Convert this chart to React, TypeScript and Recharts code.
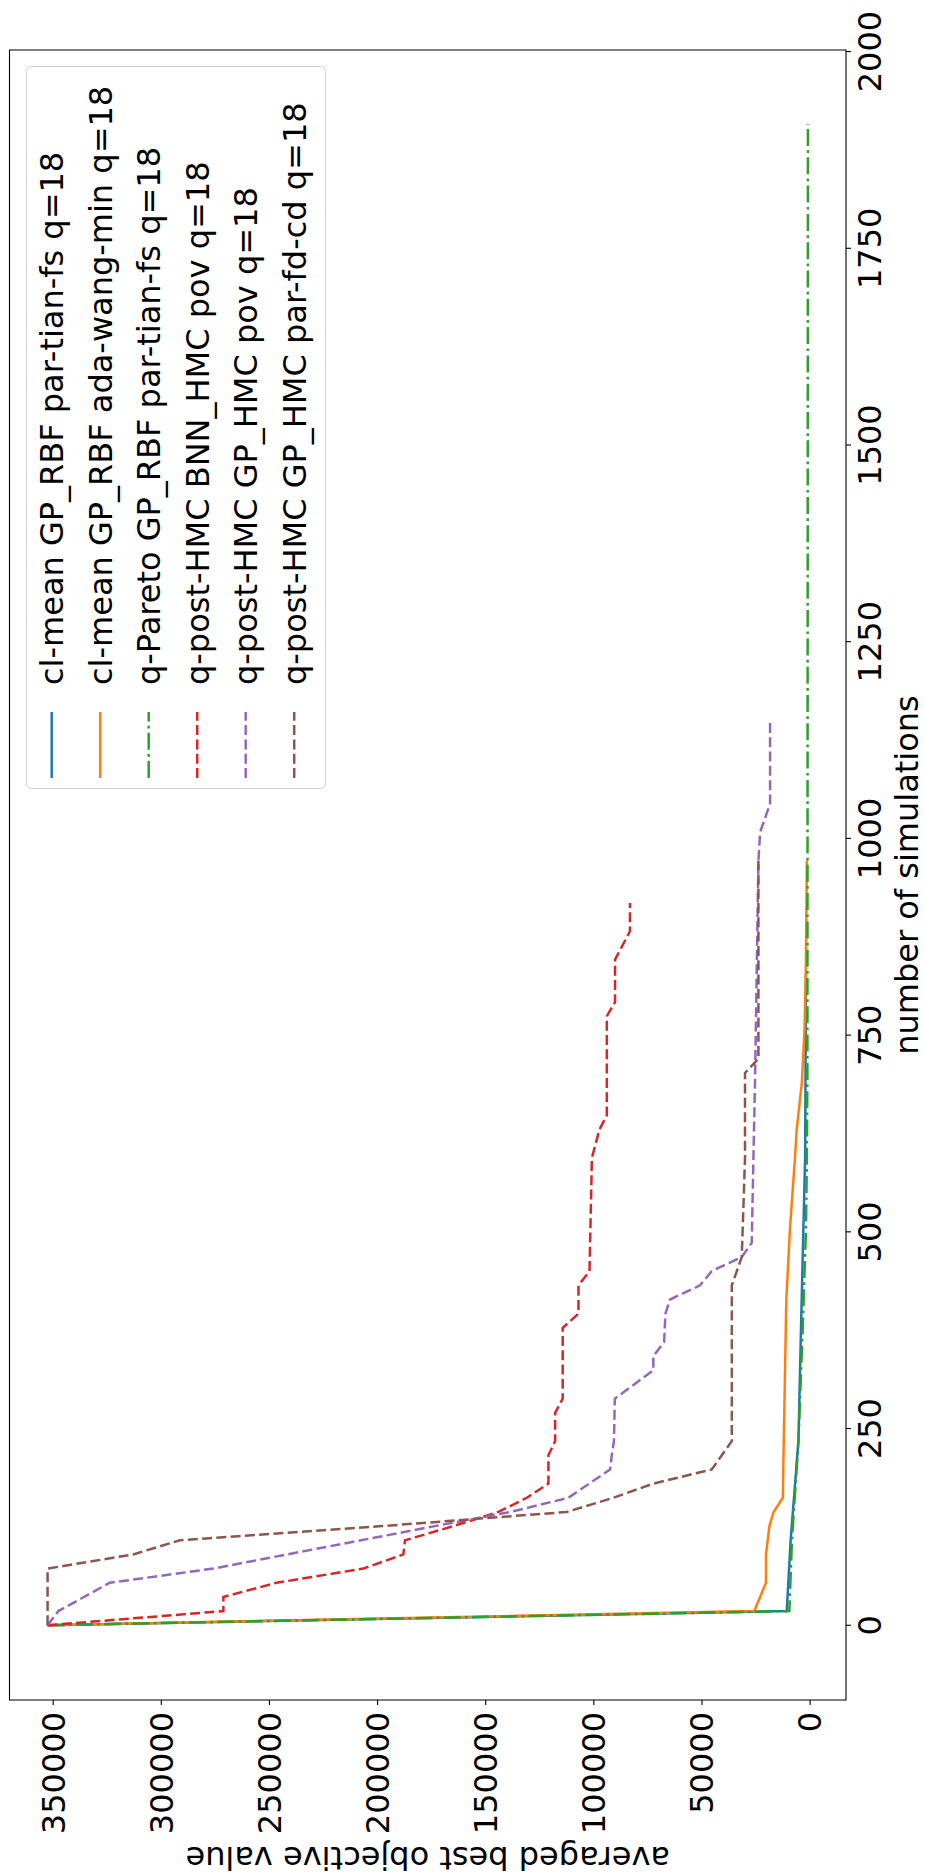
import { LineChart, Line, XAxis, YAxis, Legend, ReferenceArea } from 'recharts';

const FONT = 'DejaVu Sans';

const seriesNames = [
  'cl-mean GP_RBF par-tian-fs q=18',
  'cl-mean GP_RBF ada-wang-min q=18',
  'q-Pareto GP_RBF par-tian-fs q=18',
  'q-post-HMC BNN_HMC pov q=18',
  'q-post-HMC GP_HMC pov q=18',
  'q-post-HMC GP_HMC par-fd-cd q=18',
];
const seriesColors = ['#1f77b4', '#ff7f0e', '#2ca02c', '#d62728', '#9467bd', '#8c564b'];
const seriesDashes = ['', '', '17 4.3 2.7 4.3', '10 4.3', '10 4.3', '10 4.3'];

const simTicks = [0, 250, 500, 750, 1000, 1250, 1500, 1750, 2000];
const valueTicks = [0, 50000, 100000, 150000, 200000, 250000, 300000, 350000];

// number of simulations / averaged best objective value, per method
const blueSims = [0, 18, 108, 234, 378, 504, 594, 828];
const blueVals = [352600, 10800, 9000, 5400, 4200, 3100, 2300, 1900];

const orangeSims = [0, 18, 54, 90, 126, 144, 162, 216, 414, 504, 594, 630, 690, 756, 828, 972];
const orangeVals = [352600, 25800, 20400, 20400, 18800, 16900, 12600, 12300, 11000, 9300, 7000, 6200, 3800, 2600, 2000, 1500];

const greenSims = [0, 18, 108, 234, 378, 504, 594, 702, 1908];
const greenVals = [352600, 9600, 8400, 5400, 3400, 1900, 1500, 1250, 1000];

const redSims = [0, 18, 36, 54, 72, 90, 108, 126, 144, 162, 180, 216, 234, 270, 288, 378, 396, 432, 450, 594, 630, 648, 774, 792, 846, 882, 918];
const redVals = [352600, 271300, 271300, 246700, 206600, 188100, 187300, 165000, 144100, 131000, 121000, 121000, 117900, 117900, 114400, 114400, 107100, 107100, 102000, 100900, 97400, 94000, 94000, 90200, 90200, 83300, 83300];

const purpleSims = [0, 18, 54, 72, 126, 144, 162, 198, 216, 234, 288, 324, 342, 360, 396, 414, 432, 450, 468, 486, 594, 702, 972, 1008, 1044, 1152];
const purpleVals = [352600, 347600, 323800, 276000, 173500, 138500, 111800, 92500, 91700, 90700, 90300, 72500, 72500, 67500, 66900, 64750, 50900, 45500, 31600, 27000, 26200, 25400, 23900, 23100, 18500, 18500];

const brownSims = [0, 72, 90, 108, 126, 144, 162, 180, 198, 234, 432, 468, 594, 702, 720, 972];
const brownVals = [352600, 352600, 313000, 291400, 198000, 112500, 91000, 72500, 45500, 36200, 36200, 31600, 30100, 30100, 23900, 23900];

const toPoints = (sims: number[], vals: number[]) => sims.map((n, i) => ({ n, v: vals[i] }));

const series = [
  toPoints(blueSims, blueVals),
  toPoints(orangeSims, orangeVals),
  toPoints(greenSims, greenVals),
  toPoints(redSims, redVals),
  toPoints(purpleSims, purpleVals),
  toPoints(brownSims, brownVals),
];

function renderLegend() {
  return (
    <svg width={723} height={300} style={{ display: 'block' }}>
      <rect x={0.5} y={0.5} width={722} height={299} rx={5} fill="#fff" fillOpacity={0.8} stroke="#d0d0d0" />
      {seriesNames.map((name, i) => {
        const cy = 25.7 + 48.5 * i;
        return (
          <g key={name}>
            <line x1={11} x2={77} y1={cy} y2={cy} stroke={seriesColors[i]} strokeWidth={2.5}
              strokeDasharray={seriesDashes[i] || undefined} />
            <text x={104} y={cy + 11.6} fontSize={32} fontFamily={FONT} fill="#000">{name}</text>
          </g>
        );
      })}
    </svg>
  );
}

function renderYLabel(props: any) {
  const vb = props.viewBox || { y: 9.5, height: 836.5 };
  const cy = vb.y + vb.height / 2;
  return (
    <text x={29.5} y={cy} transform={`rotate(-90 29.5 ${cy})`} textAnchor="middle"
      fontSize={32} fontFamily={FONT} fill="#000">
      averaged best objective value
    </text>
  );
}

export default function App() {
  return (
    <div style={{ position: 'absolute', left: 0, top: 0, width: 925, height: 1876, overflow: 'hidden', background: '#fff' }}>
      <div style={{ position: 'absolute', left: 0, top: 0, width: 1876, height: 925, transformOrigin: '0 0', transform: 'translate(0px, 1876px) rotate(-90deg)' }}>
        <LineChart width={1876} height={925} margin={{ top: 9.5, right: 50, bottom: 0, left: 0 }}>
          <XAxis
            dataKey="n" type="number" domain={[-95, 2002]} ticks={simTicks} height={79}
            axisLine={false} tickSize={5} tickMargin={7}
            tickLine={{ stroke: '#000', strokeWidth: 1.1 }}
            tick={{ fill: '#000', fontSize: 32, fontFamily: FONT }}
            label={{ value: 'number of simulations', position: 'insideBottom', offset: 7, fill: '#000', fontSize: 32, fontFamily: FONT }}
          />
          <YAxis
            type="number" domain={[-16600, 370200]} ticks={valueTicks} width={176}
            axisLine={false} tickSize={5} tickMargin={7}
            tickLine={{ stroke: '#000', strokeWidth: 1.1 }}
            tick={{ fill: '#000', fontSize: 32, fontFamily: FONT }}
            label={{ content: renderYLabel }}
          />
          <ReferenceArea x1={-95} x2={2002} y1={-16600} y2={370200} fill="none" stroke="#000" strokeWidth={1.1} ifOverflow="visible" />
          {series.map((pts, i) => (
            <Line
              key={seriesNames[i]} data={pts} dataKey="v" name={seriesNames[i]} type="linear"
              stroke={seriesColors[i]} strokeWidth={2.5} strokeDasharray={seriesDashes[i] || undefined}
              dot={false} activeDot={false} isAnimationActive={false}
            />
          ))}
          <Legend
            layout="vertical" align="center" verticalAlign="middle" content={renderLegend}
            wrapperStyle={{ left: 1087, top: 26, width: 723, height: 300 }}
          />
        </LineChart>
      </div>
    </div>
  );
}
